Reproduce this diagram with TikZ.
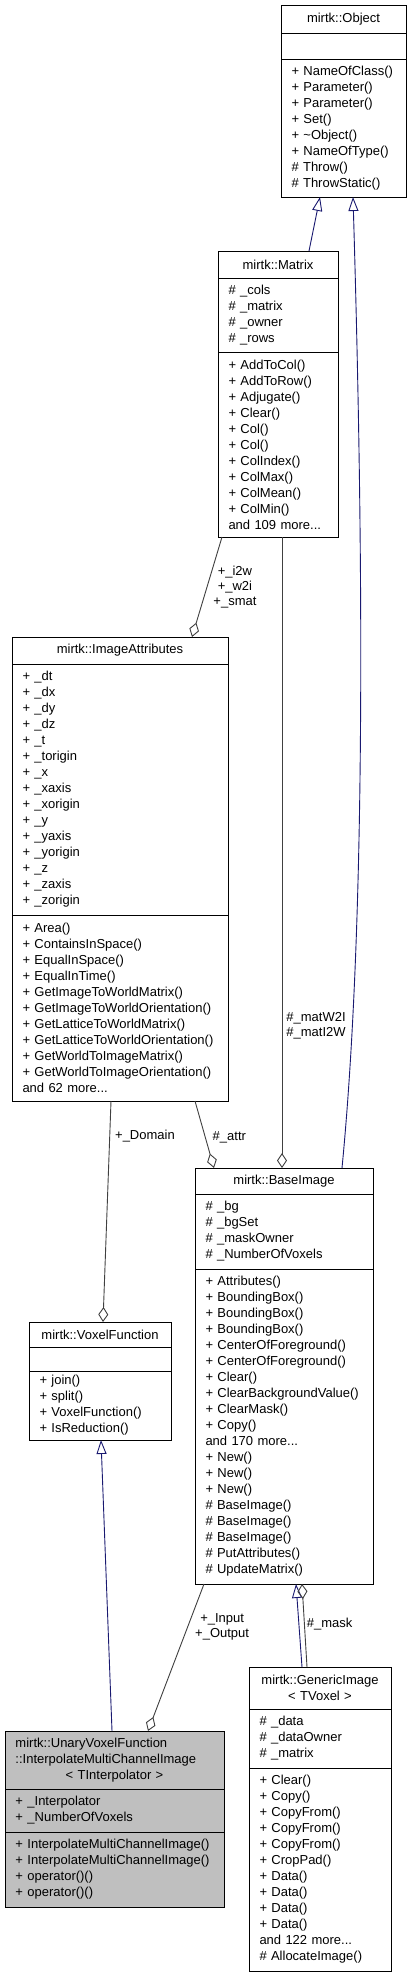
\documentclass[tikz,border=0pt]{standalone}
\usepackage{fontspec}
\setmainfont{Liberation Sans}
\usetikzlibrary{positioning,arrows.meta}
\definecolor{inheritblue}{HTML}{191970}
\definecolor{usegray}{HTML}{404040}
\definecolor{classgray}{HTML}{BFBFBF}

\begin{document}
\begin{tikzpicture}[x=1pt, y=-1pt,
	cls/.style={draw=black, line width=1pt, fill=white, inner xsep=10.5pt, inner ysep=0pt, outer sep=0pt, align=left, font=\fontsize{13}{16}\selectfont, text width=#1},
	head/.style={cls=#1, align=center},
	inherit/.style={draw=inheritblue, line width=0.9pt, -{Triangle[open, length=14pt, width=10pt]}},
	usage/.style={draw=usegray, line width=0.9pt, -{Diamond[open, length=15pt, width=10pt]}},
	lbl/.style={font=\fontsize{13}{15}\selectfont, align=center, inner sep=0pt}]
	\path[use as bounding box, fill=white] (0,0) rectangle (411,1979);

	% mirtk::Object
	\node[head=104pt, anchor=north west, minimum height=28pt] (obj) at (281,5) {mirtk::Object};
	\node[cls=104pt, minimum height=26pt, below=0pt of obj] (obj-a) {};
	\node[cls=104pt, minimum height=138pt, below=0pt of obj-a] (obj-m) {+ NameOfClass()\\+ Parameter()\\+ Parameter()\\+ Set()\\+ \textasciitilde Object()\\+ NameOfType()\\\# Throw()\\\# ThrowStatic()};

	% mirtk::Matrix
	\node[head=99pt, anchor=north west, minimum height=27pt] (mat) at (218,251) {mirtk::Matrix};
	\node[cls=99pt, minimum height=74pt, below=0pt of mat] (mat-a) {\# \_cols\\\# \_matrix\\\# \_owner\\\# \_rows};
	\node[cls=99pt, minimum height=185pt, below=0pt of mat-a] (mat-m) {+ AddToCol()\\+ AddToRow()\\+ Adjugate()\\+ Clear()\\+ Col()\\+ Col()\\+ ColIndex()\\+ ColMax()\\+ ColMean()\\+ ColMin()\\and 109 more...};

	% mirtk::ImageAttributes
	\node[head=195pt, anchor=north west, minimum height=27pt] (ia) at (12,637) {mirtk::ImageAttributes};
	\node[cls=195pt, minimum height=251pt, below=0pt of ia] (ia-a) {+ \_dt\\+ \_dx\\+ \_dy\\+ \_dz\\+ \_t\\+ \_torigin\\+ \_x\\+ \_xaxis\\+ \_xorigin\\+ \_y\\+ \_yaxis\\+ \_yorigin\\+ \_z\\+ \_zaxis\\+ \_zorigin};
	\node[cls=195pt, minimum height=186pt, below=0pt of ia-a] (ia-m) {+ Area()\\+ ContainsInSpace()\\+ EqualInSpace()\\+ EqualInTime()\\+ GetImageToWorldMatrix()\\+ GetImageToWorldOrientation()\\+ GetLatticeToWorldMatrix()\\+ GetLatticeToWorldOrientation()\\+ GetWorldToImageMatrix()\\+ GetWorldToImageOrientation()\\and 62 more...};

	% mirtk::BaseImage
	\node[head=157pt, anchor=north west, minimum height=26pt] (base) at (195,1168) {mirtk::BaseImage};
	\node[cls=157pt, minimum height=75pt, below=0pt of base] (base-a) {\# \_bg\\\# \_bgSet\\\# \_maskOwner\\\# \_NumberOfVoxels};
	\node[cls=157pt, minimum height=315pt, below=0pt of base-a] (base-m) {+ Attributes()\\+ BoundingBox()\\+ BoundingBox()\\+ BoundingBox()\\+ CenterOfForeground()\\+ CenterOfForeground()\\+ Clear()\\+ ClearBackgroundValue()\\+ ClearMask()\\+ Copy()\\and 170 more...\\+ New()\\+ New()\\+ New()\\\# BaseImage()\\\# BaseImage()\\\# BaseImage()\\\# PutAttributes()\\\# UpdateMatrix()};

	% mirtk::VoxelFunction
	\node[head=121pt, anchor=north west, minimum height=25pt] (vf) at (29,1322) {mirtk::VoxelFunction};
	\node[cls=121pt, minimum height=24pt, below=0pt of vf] (vf-a) {};
	\node[cls=121pt, minimum height=69pt, below=0pt of vf-a] (vf-m) {+ join()\\+ split()\\+ VoxelFunction()\\+ IsReduction()};

	% InterpolateMultiChannelImage
	\node[cls=198pt, fill=classgray, anchor=north west, minimum height=58pt] (ip) at (5,1731) {mirtk::UnaryVoxelFunction\\::InterpolateMultiChannelImage\\\makebox[198pt]{< TInterpolator >}};
	\node[cls=198pt, fill=classgray, minimum height=43pt, below=0pt of ip] (ip-a) {+ \_Interpolator\\+ \_NumberOfVoxels};
	\node[cls=198pt, fill=classgray, minimum height=75pt, below=0pt of ip-a] (ip-m) {+ InterpolateMultiChannelImage()\\+ InterpolateMultiChannelImage()\\+ operator()()\\+ operator()()};

	% mirtk::GenericImage
	\node[head=121pt, anchor=north west, minimum height=42pt] (gi) at (249,1667) {mirtk::GenericImage\\< TVoxel >};
	\node[cls=121pt, minimum height=59pt, below=0pt of gi] (gi-a) {\# \_data\\\# \_dataOwner\\\# \_matrix};
	\node[cls=121pt, minimum height=203pt, below=0pt of gi-a] (gi-m) {+ Clear()\\+ Copy()\\+ CopyFrom()\\+ CopyFrom()\\+ CopyFrom()\\+ CropPad()\\+ Data()\\+ Data()\\+ Data()\\+ Data()\\and 122 more...\\\# AllocateImage()};

	% connectors
	\draw[inherit] ([xshift=91]mat.north west) -- ([xshift=39]obj-m.south west);
	\draw[inherit] ([xshift=147]base.north west) .. controls +(26,-268) and +(9,303) .. ([xshift=72]obj-m.south west);
	\draw[usage] ([xshift=4]mat-m.south west) -- node[lbl, right=6pt, pos=0.5] {+\_i2w\\+\_w2i\\+\_smat} ([xshift=180]ia.north west);
	\draw[usage] ([xshift=64]mat-m.south west) -- node[lbl, right=4pt, pos=0.775] {\#\_matW2I\\\#\_matI2W} ([xshift=87]base.north west);
	\draw[usage] ([xshift=183]ia-m.south west) -- node[lbl, right=7pt, pos=0.54] {\#\_attr} ([xshift=19]base.north west);
	\draw[usage] ([xshift=99]ia-m.south west) -- node[lbl, right=5pt, pos=0.16] {+\_Domain} ([xshift=74]vf.north west);
	\draw[inherit] ([xshift=107]ip.north west) -- ([xshift=72]vf-m.south west);
	\draw[usage] ([xshift=9]base-m.south west) -- node[lbl, right=7pt, pos=0.29] {+\_Input\\+\_Output} ([xshift=143]ip.north west);
	\draw[inherit] ([xshift=53]gi.north west) -- ([xshift=101]base-m.south west);
	\draw[usage] ([xshift=58]gi.north west) -- node[lbl, right=2pt, pos=0.52] {\#\_mask} ([xshift=107]base-m.south west);
\end{tikzpicture}
\end{document}
